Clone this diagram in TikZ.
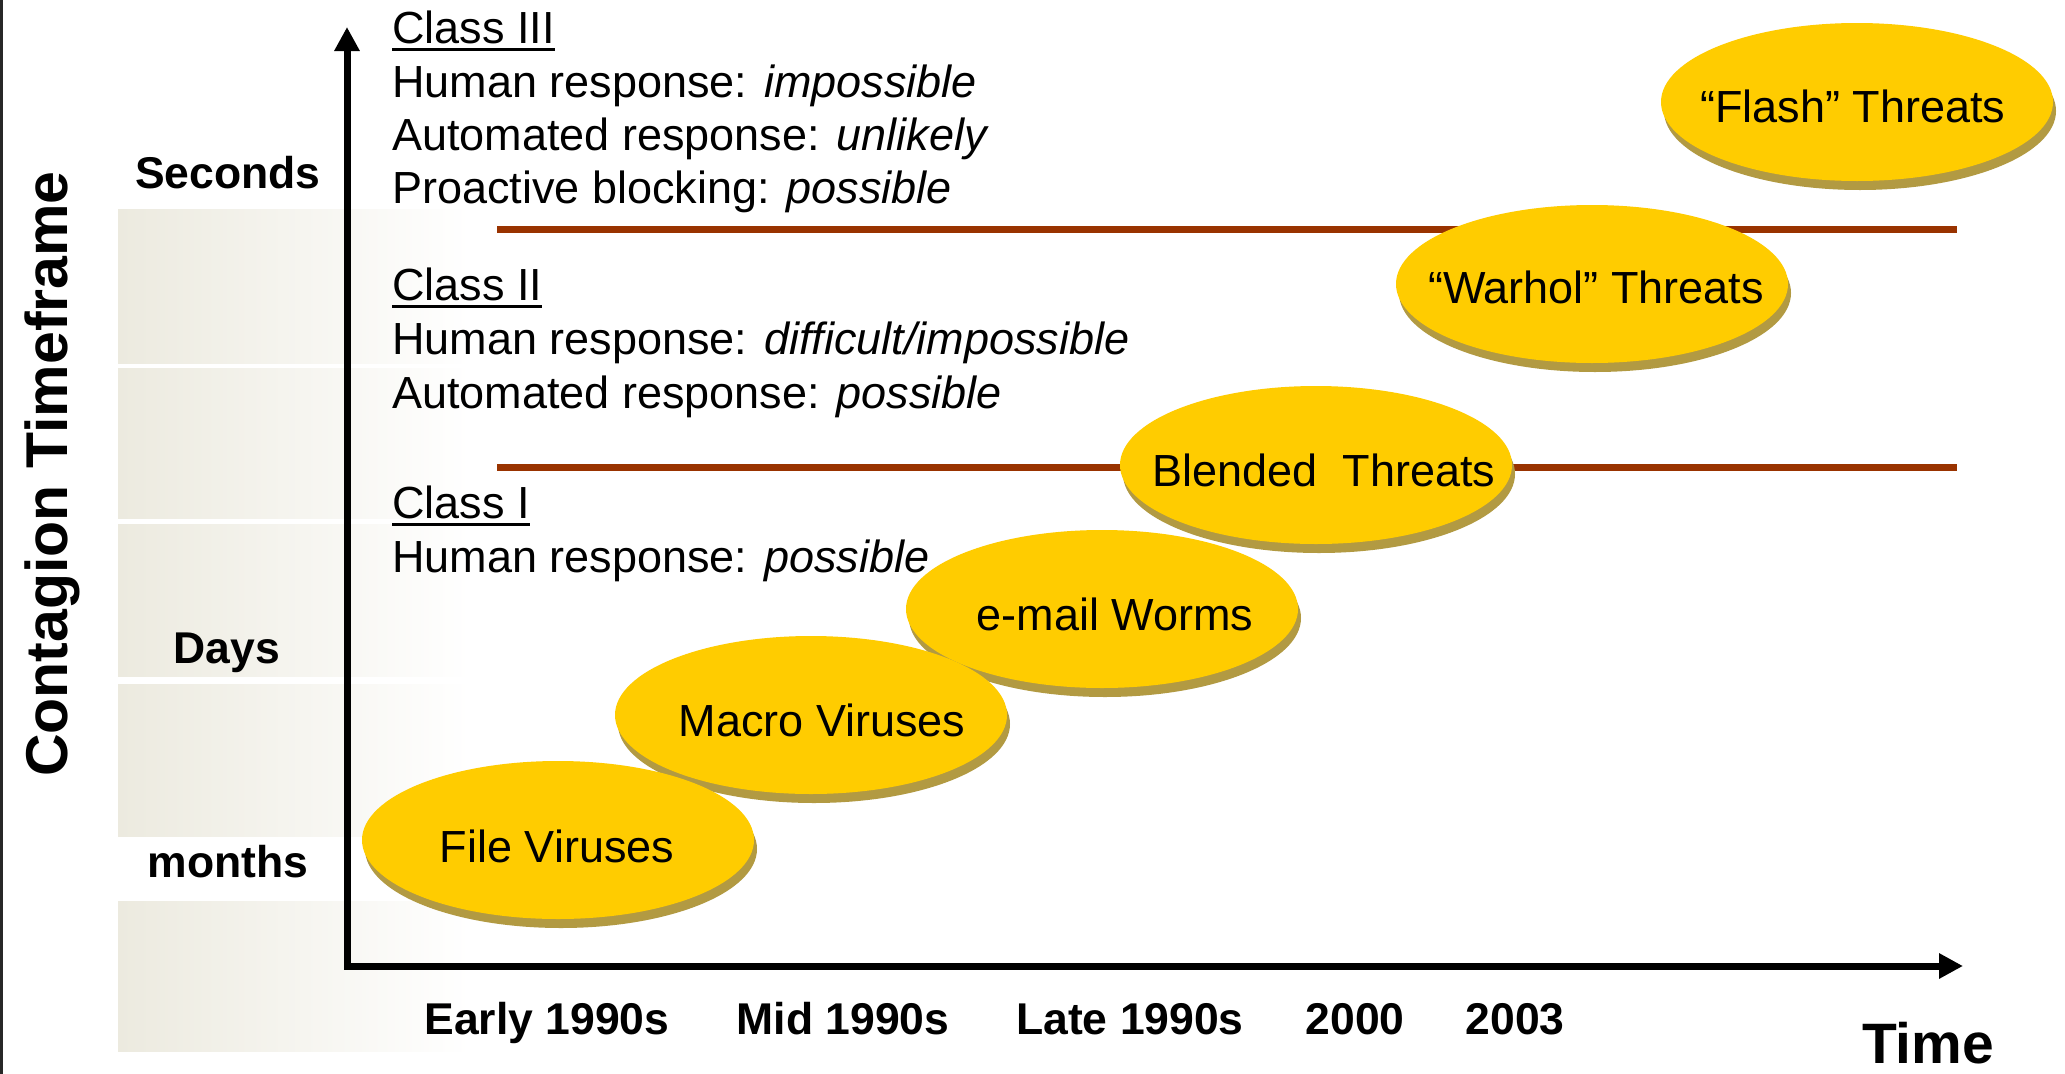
\documentclass[tikz,border=0pt]{standalone}
\usepackage{fontspec}
\setmainfont{Liberation Sans}
\usetikzlibrary{arrows.meta,shapes.geometric,shadows}
\definecolor{bandc}{RGB}{236,234,223}
\definecolor{classline}{RGB}{153,51,0}
\definecolor{threatfill}{RGB}{255,204,0}
\definecolor{threatrim}{RGB}{178,154,66}
\definecolor{edgec}{RGB}{40,40,40}
\newcommand\fsz[1]{\fontsize{#1}{#1}\selectfont}
\begin{document}
\begin{tikzpicture}[x=1pt,y=-1pt,
  band/.style={left color=bandc, middle color=bandc!75!white, right color=white, draw=none},
  axisline/.style={line width=7pt, line join=miter, {Triangle[length=24pt,width=24pt]}-{Triangle[length=24pt,width=24pt]}},
  classsep/.style={line width=7pt, draw=classline},
  threat/.style={ellipse, minimum width=392pt, minimum height=158pt, inner sep=0pt, fill=threatfill,
    general shadow={shadow xshift=3pt, shadow yshift=-9pt, fill=threatrim}},
  threattext/.style={font=\fsz{45}, inner sep=0pt, anchor=base},
  classtext/.style={font=\fsz{45}, inner sep=0pt, anchor=base west},
  ticklabel/.style={font=\fsz{44.5}\bfseries, inner sep=0pt, anchor=base},
  uline/.style={line width=3pt}
]
\useasboundingbox (0,0) rectangle (2065,1074);
\fill[white] (0,0) rectangle (2065,1074);
\fill[edgec] (0,0) rectangle (2.5,1074);

% background bands
\shade[band] (118,209) rectangle (470,363);
\shade[band] (118,368) rectangle (470,518);
\shade[band] (118,524) rectangle (470,676);
\shade[band] (118,684) rectangle (470,836);
\shade[band] (118,901) rectangle (470,1051);

% axes
\coordinate (ytop) at (347,27);
\coordinate (origin) at (347,966);
\coordinate (xend) at (1963,966);
\draw[axisline] (ytop) -- (origin) -- (xend);

% class separators
\coordinate (s1a) at (497,229);
\coordinate (s1b) at (1957,229);
\coordinate (s2a) at (497,467);
\coordinate (s2b) at (1957,467);
\draw[classsep] (s1a) -- (s1b);
\draw[classsep] (s2a) -- (s2b);

% threats (upper first so lower ones lie on top)
\node[threat] (flash) at (1857,102) {};
\node[threat] (warhol) at (1592,284) {};
\node[threat] (blended) at (1316,465) {};
\node[threat] (email) at (1102,609) {};
\node[threat] (macro) at (811,715) {};
\node[threat] (file) at (558,840) {};

\node[threattext] (flasht) at (1853,122) {“Flash” Threats};
\node[threattext] (warholt) at (1596,303) {“Warhol” Threats};
\node[threattext] (blendedt) at (1324,486) {Blended\ \ Threats};
\node[threattext] (emailt) at (1115,630) {e-mail Worms};
\node[threattext] (macrot) at (822,736) {Macro Viruses};
\node[threattext] (filet) at (557,862) {File Viruses};

% class texts
\node[classtext] (c3) at (392,43) {Class III};
\node[classtext] (c3a) at (392,97) {Human response: \textit{impossible}};
\node[classtext] (c3b) at (392,150) {Automated response: \textit{unlikely}};
\node[classtext] (c3c) at (392,203) {Proactive blocking: \textit{possible}};
\node[classtext] (c2) at (392,300) {Class II};
\node[classtext] (c2a) at (392,354) {Human response: \textit{difficult/impossible}};
\node[classtext] (c2b) at (392,408) {Automated response: \textit{possible}};
\node[classtext] (c1) at (392,518) {Class I};
\node[classtext] (c1a) at (392,572) {Human response: \textit{possible}};
\draw[uline] ([yshift=-6pt]c3.base west) -- ([yshift=-6pt]c3.base east);
\draw[uline] ([yshift=-6pt]c2.base west) -- ([yshift=-6pt]c2.base east);
\draw[uline] ([yshift=-6pt]c1.base west) -- ([yshift=-6pt]c1.base east);

% y-axis labels
\node[ticklabel] (secs) at (228,188) {Seconds};
\node[ticklabel] (days) at (227,663) {Days};
\node[ticklabel] (months) at (228,877) {months};
\node[font=\fsz{59}\bfseries, inner sep=0pt, anchor=base, rotate=90] (ylab) at (67,474) {Contagion Timeframe};

% x-axis labels
\node[ticklabel] (early) at (547,1034) {Early 1990s};
\node[ticklabel] (mid) at (843,1034) {Mid 1990s};
\node[ticklabel] (late) at (1130,1034) {Late 1990s};
\node[ticklabel] (y2000) at (1355,1034) {2000};
\node[ticklabel] (y2003) at (1515,1034) {2003};
\node[font=\fsz{57}\bfseries, inner sep=0pt, anchor=base] (xlab) at (1928,1063) {Time};
\end{tikzpicture}
\end{document}
